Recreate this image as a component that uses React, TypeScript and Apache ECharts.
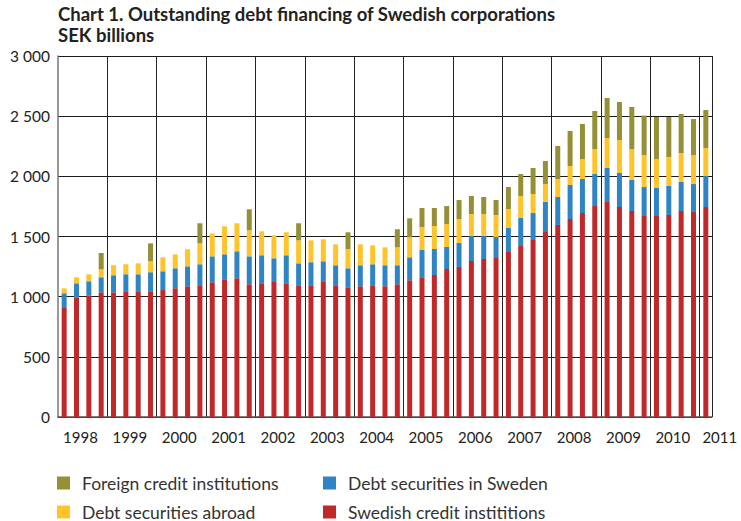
import React, { useEffect, useRef } from "react";
import * as echarts from "echarts";

const years = ["1998", "1999", "2000", "2001", "2002", "2003", "2004", "2005", "2006", "2007", "2008", "2009", "2010", "2011"];
const quarterNames = ["Q1", "Q2", "Q3", "Q4"];

const swedishCredit = [
  906, 995, 1011, 1036, 1036, 1045, 1045, 1045, 1055, 1069, 1086, 1094,
  1119, 1139, 1153, 1103, 1111, 1122, 1111, 1094, 1094, 1128, 1094, 1078,
  1086, 1094, 1086, 1103, 1136, 1161, 1180, 1230, 1247, 1296, 1313, 1321,
  1371, 1421, 1471, 1537, 1596, 1645, 1695, 1753, 1787, 1745, 1712, 1670,
  1670, 1679, 1712, 1704, 1745,
];
const debtSweden = [
  122, 116, 117, 125, 142, 141, 141, 158, 156, 167, 166, 175,
  216, 213, 224, 232, 233, 197, 233, 183, 192, 166, 167, 158,
  175, 175, 175, 158, 191, 227, 216, 183, 199, 208, 191, 175,
  200, 233, 224, 250, 232, 283, 283, 266, 282, 283, 258, 241,
  233, 241, 241, 232, 258,
];
const debtAbroad = [
  41, 50, 58, 66, 83, 83, 91, 91, 116, 116, 142, 174,
  190, 233, 233, 217, 199, 191, 191, 191, 182, 183, 174, 158,
  174, 158, 149, 149, 166, 191, 191, 191, 199, 183, 183, 183,
  157, 183, 158, 149, 150, 158, 166, 208, 249, 274, 257, 266,
  241, 241, 241, 241, 232,
];
const foreignCredit = [
  0, 0, 0, 136, 0, 0, 0, 149, 0, 0, 0, 167,
  0, 0, 0, 174, 0, 0, 0, 142, 0, 0, 0, 141,
  0, 0, 0, 150, 158, 158, 150, 149, 158, 150, 141, 124,
  183, 182, 216, 191, 274, 291, 291, 316, 333, 316, 349, 328,
  349, 332, 324, 299, 316,
];

const seriesNames = [
  "Swedish credit instititions",
  "Debt securities in Sweden",
  "Debt securities abroad",
  "Foreign credit institutions",
];
const seriesColors = ["#c0282a", "#2f84c6", "#ffc42a", "#958f36"];

const FONT = "Lato, 'Open Sans', sans-serif";

function legendItem(name: string, left: number, top: number) {
  return {
    orient: "horizontal",
    left,
    top,
    padding: 0,
    itemWidth: 13,
    itemHeight: 13,
    icon: "rect",
    data: [name],
    textStyle: {
      fontFamily: FONT,
      fontSize: 17.5,
      lineHeight: 17,
      color: "#333",
      padding: [0, 0, 0, 7],
    },
  };
}

export default function App() {
  const ref = useRef<HTMLDivElement>(null);

  useEffect(() => {
    document.body.style.margin = "0";
    if (!ref.current) return;
    const chart = echarts.init(ref.current, null, { renderer: "svg" });

    const categories: string[] = [];
    years.forEach((y) => quarterNames.forEach((q) => categories.push(y + q)));
    const cats = categories.slice(0, swedishCredit.length);

    const dataSets = [swedishCredit, debtSweden, debtAbroad, foreignCredit];

    const option: any = {
      animation: false,
      backgroundColor: "#ffffff",
      textStyle: { fontFamily: FONT },
      title: {
        text: "Chart 1. Outstanding debt financing of Swedish corporations\nSEK billions",
        left: 58,
        top: 3,
        padding: 0,
        textStyle: {
          fontFamily: FONT,
          fontSize: 18.5,
          fontWeight: "bold",
          color: "#222",
          lineHeight: 21,
        },
      },
      legend: [
        legendItem(seriesNames[3], 57, 474),
        legendItem(seriesNames[2], 57, 503),
        legendItem(seriesNames[1], 323, 474),
        legendItem(seriesNames[0], 323, 503),
      ],
      grid: { left: 58, right: 29, top: 56, bottom: 104 },
      xAxis: {
        type: "category",
        data: cats,
        boundaryGap: true,
        axisLine: { show: true, lineStyle: { color: "#555", width: 1.5 } },
        axisTick: { show: false },
        axisLabel: {
          interval: (idx: number) => idx % 4 === 1 || idx === cats.length - 1,
          formatter: (val: string, idx: number) => {
            const y = val.slice(0, 4);
            if (idx === cats.length - 1) return "{b|" + y + "}";
            return "{a|" + y + "}";
          },
          margin: 12,
          color: "#222",
          fontSize: 15,
          fontFamily: FONT,
          rich: {
            a: { padding: [0, 0, 0, 8], fontSize: 15, fontFamily: FONT, color: "#222" },
            b: { padding: [0, 0, 0, 28], fontSize: 15, fontFamily: FONT, color: "#222" },
          },
        },
        splitLine: {
          show: true,
          interval: (idx: number) => idx % 4 === 0 && idx > 0,
          lineStyle: { color: "#222", width: 1 },
        },
      },
      yAxis: {
        type: "value",
        min: 0,
        max: 3000,
        interval: 500,
        axisLine: { show: true, lineStyle: { color: "#777", width: 1.5 } },
        axisTick: { show: false },
        axisLabel: {
          margin: 8,
          color: "#222",
          fontSize: 15.5,
          fontFamily: FONT,
          formatter: (v: number) => {
            const s = String(v);
            return s.length > 3 ? s.slice(0, s.length - 3) + " " + s.slice(-3) : s;
          },
        },
        splitLine: { show: true, lineStyle: { color: "#1a1a1a", width: 1 } },
      },
      series: dataSets.map((d, i) => ({
        name: seriesNames[i],
        type: "bar",
        stack: "total",
        barWidth: 5,
        data: d,
        itemStyle: { color: seriesColors[i] },
      })),
    };

    chart.setOption(option);
    return () => chart.dispose();
  }, []);

  return <div ref={ref} style={{ width: 741, height: 521 }} />;
}
